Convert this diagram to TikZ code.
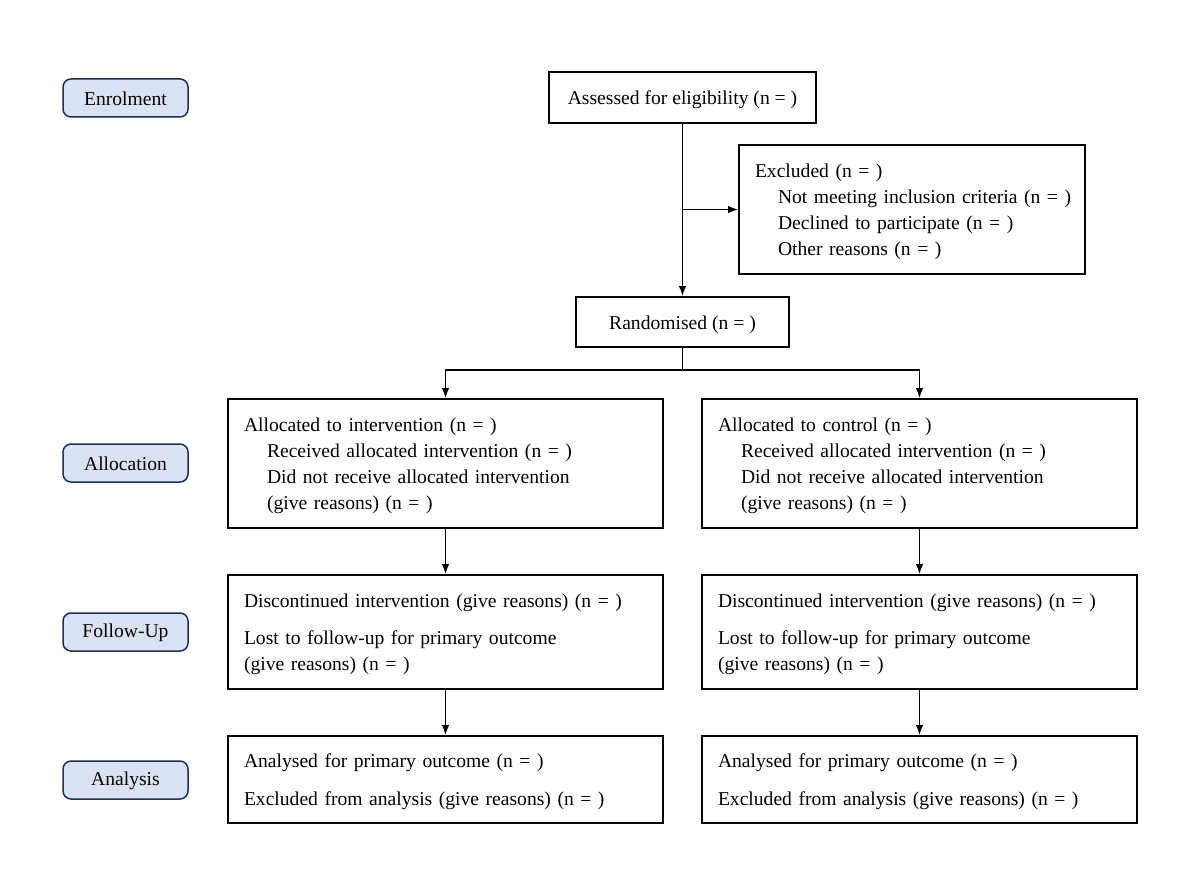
\documentclass[tikz,border=0pt]{standalone}
\usepackage{fontspec}
\setmainfont{Liberation Serif}
\usetikzlibrary{arrows.meta}
\definecolor{labfill}{HTML}{DAE3F3}
\definecolor{labdraw}{HTML}{1F2F5F}
\newcommand\Top{\rule{0pt}{19pt}}
\newcommand\Sm{\rule{0pt}{16pt}}
\newcommand\Ln[1]{\mbox{#1}}
\newcommand\Ind[1]{\mbox{\hspace*{23pt}#1}}
\begin{document}
\begin{tikzpicture}[x=1pt,y=-1pt,
  every node/.style={font=\fontsize{19.6}{26}\selectfont},
  box/.style={draw=black,line width=1.6pt,inner xsep=16pt,inner ysep=0pt,align=left,minimum height=#1},
  wbox/.style={box=#1,text width=403pt},
  stage/.style={draw=labdraw,fill=labfill,line width=1.5pt,rounded corners=8pt,minimum width=125pt,minimum height=38pt,inner sep=0pt},
  arr/.style={line width=1.8pt,-{Latex[length=10pt,width=7.5pt]}},
  ln/.style={line width=1.8pt}]
\useasboundingbox (0,0) rectangle (1200,896);
% stage labels
\node[stage] (enrol) at (125.5,98) {\Sm Enrolment};
\node[stage] (allocation) at (125.5,463) {\Sm Allocation};
\node[stage] (followup) at (125.5,632) {\Sm Follow-Up};
\node[stage] (analysis) at (125.5,780) {\Sm Analysis};
% boxes
\node[box=51pt,minimum width=267pt,align=center] (assess) at (682.5,97.5) {\Top Assessed for eligibility (n = )};
\node[box=129pt,text width=314pt] (excl) at (912,209.5) {\Ln{\Top Excluded (n = )}\\\Ind{Not meeting inclusion criteria (n = )}\\\Ind{Declined to participate (n = )}\\\Ind{Other reasons (n = )}};
\node[box=50pt,minimum width=213pt,align=center] (rand) at (682.5,322) {\Top Randomised (n = )};
\node[wbox=129pt] (allocL) at (445.5,463.5) {\Ln{\Top Allocated to intervention (n = )}\\\Ind{Received allocated intervention (n = )}\\\Ind{Did not receive allocated intervention}\\\Ind{(give reasons) (n = )}};
\node[wbox=129pt] (allocR) at (919.5,463.5) {\Ln{\Top Allocated to control (n = )}\\\Ind{Received allocated intervention (n = )}\\\Ind{Did not receive allocated intervention}\\\Ind{(give reasons) (n = )}};
\node[wbox=114pt] (fuL) at (445.5,632) {\Ln{\Top Discontinued intervention (give reasons) (n = )}\\[11pt]\Ln{Lost to follow-up for primary outcome}\\\Ln{(give reasons) (n = )}};
\node[wbox=114pt] (fuR) at (919.5,632) {\Ln{\Top Discontinued intervention (give reasons) (n = )}\\[11pt]\Ln{Lost to follow-up for primary outcome}\\\Ln{(give reasons) (n = )}};
\node[wbox=87pt] (anL) at (445.5,779.5) {\Ln{\Top Analysed for primary outcome (n = )}\\[12pt]\Ln{Excluded from analysis (give reasons) (n = )}};
\node[wbox=87pt] (anR) at (919.5,779.5) {\Ln{\Top Analysed for primary outcome (n = )}\\[12pt]\Ln{Excluded from analysis (give reasons) (n = )}};
% connectors
\draw[arr] (assess.south) -- (rand.north);
\draw[arr] (assess.south |- excl.west) -- (excl.west);
\coordinate (split) at (682.5,370);
\draw[ln] (rand.south) -- (split);
\draw[arr] (split) -| (allocL.north);
\draw[arr] (split) -| (allocR.north);
\draw[arr] (allocL.south) -- (fuL.north);
\draw[arr] (allocR.south) -- (fuR.north);
\draw[arr] (fuL.south) -- (anL.north);
\draw[arr] (fuR.south) -- (anR.north);
\end{tikzpicture}
\end{document}
